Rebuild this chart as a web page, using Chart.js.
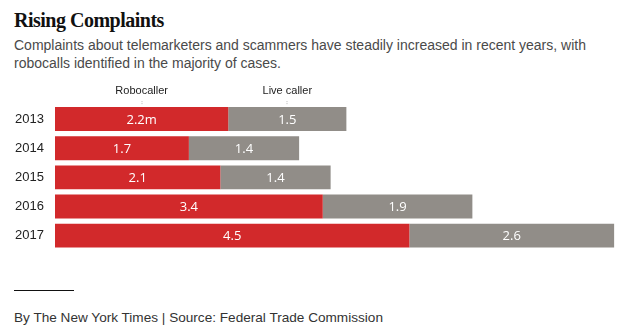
<!DOCTYPE html>
<html>
<head>
<meta charset="utf-8">
<script src="https://cdn.jsdelivr.net/npm/chart.js@4/dist/chart.umd.min.js"></script>
<style>
  body { margin: 0; background: #fff; width: 638px; height: 334px; position: relative; overflow: hidden; }
  .title { position: absolute; left: 14px; top: 9px; font: bold 20px "Liberation Serif", serif; letter-spacing: -0.5px; color: #111; }
  .sub { position: absolute; left: 14px; top: 36px; width: 610px; font: 14px "Liberation Sans", sans-serif; line-height: 18px; color: #4a4a4a; }
  .rule { position: absolute; left: 14px; top: 290px; width: 60px; height: 1px; background: #111; }
  .foot { position: absolute; left: 14px; top: 310px; font: 13.6px "Liberation Sans", sans-serif; color: #333; }
  .wrap { position: absolute; left: 0; top: 76px; width: 638px; height: 193px; }
</style>
</head>
<body>
<div class="title">Rising Complaints</div>
<div class="sub">Complaints about telemarketers and scammers have steadily increased in recent years, with robocalls identified in the majority of cases.</div>
<div class="wrap"><canvas id="chart"></canvas></div>
<div class="rule"></div>
<div class="foot">By The New York Times | Source: Federal Trade Commission</div>
<script>
// complaints, millions
const years = ["2013", "2014", "2015", "2016", "2017"];
const robocaller = [2.2, 1.7, 2.1, 3.4, 4.5];
const liveCaller = [1.5, 1.4, 1.4, 1.9, 2.6];
const seriesNames = ["Robocaller", "Live caller"];

// writes values inside the bars and the series names above the first row
const barText = {
  id: "barText",
  afterDatasetsDraw(chart) {
    const ctx = chart.ctx;
    ctx.save();
    chart.data.datasets.forEach((ds, i) => {
      const meta = chart.getDatasetMeta(i);
      meta.data.forEach((bar, j) => {
        const cx = (bar.x + bar.base) / 2;
        let txt = ds.data[j].toFixed(1);
        if (i === 0 && j === 0) txt += "m";
        ctx.fillStyle = "#fff";
        ctx.font = "13px 'Open Sans', sans-serif";
        ctx.textAlign = "center";
        ctx.textBaseline = "middle";
        ctx.fillText(txt, cx, bar.y + 1);
        if (j === 0) {
          const top = bar.y - bar.height / 2;
          ctx.fillStyle = "#222";
          ctx.font = "11px 'Liberation Sans', sans-serif";
          ctx.fillText(ds.label, cx, top - 16);
          ctx.fillStyle = "#bbb";
          ctx.fillRect(Math.round(cx) - 0.5, top - 6, 1, 1);
          ctx.fillRect(Math.round(cx) - 0.5, top - 4, 1, 1);
        }
      });
    });
    ctx.restore();
  }
};

new Chart(document.getElementById("chart"), {
  type: "bar",
  data: {
    labels: years,
    datasets: [
      { label: seriesNames[0], data: robocaller, backgroundColor: "#d2292b" },
      { label: seriesNames[1], data: liveCaller, backgroundColor: "#918d88" }
    ]
  },
  options: {
    indexAxis: "y",
    responsive: true,
    maintainAspectRatio: false,
    animation: false,
    barPercentage: 1,
    categoryPercentage: 0.82,
    layout: { padding: { top: 28.5, bottom: 6.5, right: 16, left: 0 } },
    plugins: { legend: { display: false }, tooltip: { enabled: false } },
    scales: {
      x: { stacked: true, min: 0, max: 7.2, display: false },
      y: {
        stacked: true,
        border: { display: false },
        grid: { display: false, drawTicks: false },
        ticks: { padding: 11, color: "#222", font: { family: "'Liberation Sans', sans-serif", size: 13 } },
        afterFit(scale) { scale.width = 55; }
      }
    }
  },
  plugins: [barText]
});
</script>
</body>
</html>
